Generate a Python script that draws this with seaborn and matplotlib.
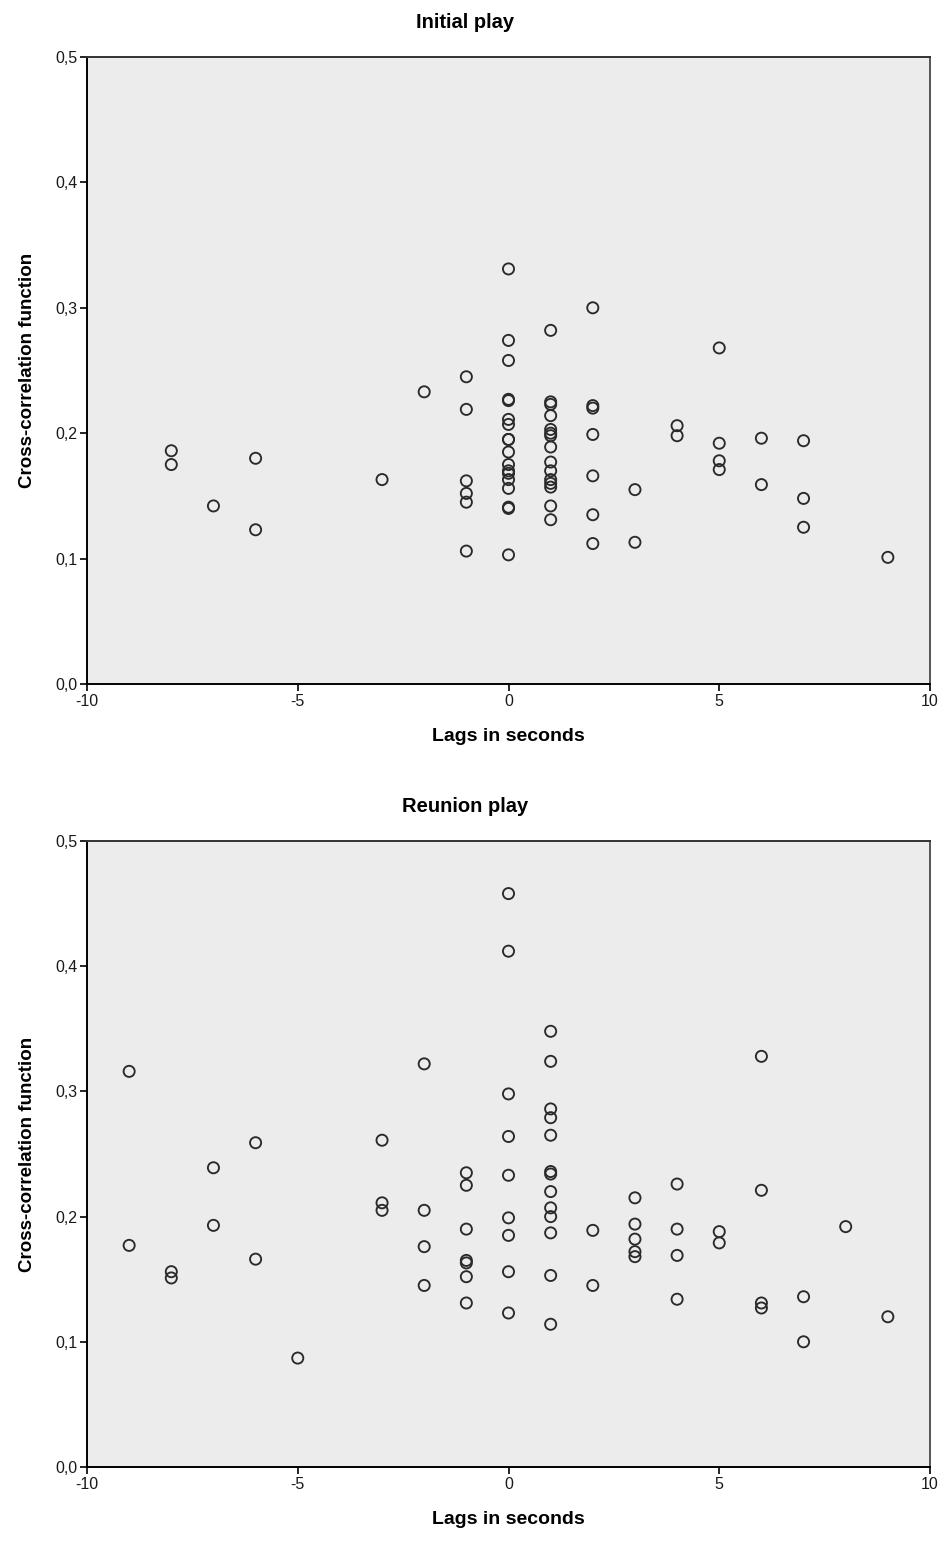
import matplotlib
matplotlib.use("Agg")
import matplotlib.pyplot as plt
import seaborn as sns
import pandas as pd
from matplotlib.ticker import FuncFormatter, FixedLocator

# ---- data ----
initial_lag = ([-8] * 2 + [-7] + [-6] * 2 + [-3] + [-2] + [-1] * 6 + [0] * 18 + [1] * 15
               + [2] * 7 + [3] * 2 + [4] * 2 + [5] * 4 + [6] * 2 + [7] * 3 + [9])
initial_ccf = [0.186, 0.175,
               0.142,
               0.180, 0.123,
               0.163,
               0.233,
               0.245, 0.219, 0.162, 0.152, 0.145, 0.106,
               0.331, 0.274, 0.258, 0.227, 0.226, 0.211, 0.207, 0.195, 0.195, 0.185,
               0.175, 0.170, 0.168, 0.163, 0.156, 0.141, 0.140, 0.103,
               0.282, 0.225, 0.223, 0.214, 0.203, 0.200, 0.198, 0.189, 0.177, 0.170,
               0.163, 0.160, 0.157, 0.142, 0.131,
               0.300, 0.222, 0.220, 0.199, 0.166, 0.135, 0.112,
               0.155, 0.113,
               0.206, 0.198,
               0.268, 0.192, 0.178, 0.171,
               0.196, 0.159,
               0.194, 0.148, 0.125,
               0.101]

reunion_lag = ([-9] * 2 + [-8] * 2 + [-7] * 2 + [-6] * 2 + [-5] + [-3] * 3 + [-2] * 4
               + [-1] * 7 + [0] * 9 + [1] * 13 + [2] * 2 + [3] * 5 + [4] * 4 + [5] * 2
               + [6] * 4 + [7] * 2 + [8] + [9])
reunion_ccf = [0.316, 0.177,
               0.156, 0.151,
               0.239, 0.193,
               0.259, 0.166,
               0.087,
               0.261, 0.211, 0.205,
               0.322, 0.205, 0.176, 0.145,
               0.235, 0.225, 0.190, 0.165, 0.163, 0.152, 0.131,
               0.458, 0.412, 0.298, 0.264, 0.233, 0.199, 0.185, 0.156, 0.123,
               0.348, 0.324, 0.286, 0.279, 0.265, 0.236, 0.234, 0.220, 0.207, 0.200,
               0.187, 0.153, 0.114,
               0.189, 0.145,
               0.215, 0.194, 0.182, 0.172, 0.168,
               0.226, 0.190, 0.169, 0.134,
               0.188, 0.179,
               0.328, 0.221, 0.131, 0.127,
               0.136, 0.100,
               0.192,
               0.120]

titles = ["Initial play", "Reunion play"]
x_label = "Lags in seconds"
y_label = "Cross-correlation function"
x_ticks = [-10, -5, 0, 5, 10]
y_ticks = [0.0, 0.1, 0.2, 0.3, 0.4, 0.5]

sns.set_theme(style="white")
plt.rcParams["font.family"] = ["Liberation Sans", "DejaVu Sans"]
plt.rcParams["axes.unicode_minus"] = False

fig = plt.figure(figsize=(9.39, 15.41), dpi=100)
W, H = 939.0, 1541.0
panels = [
    (initial_lag, initial_ccf, titles[0], 57, 684, 22),
    (reunion_lag, reunion_ccf, titles[1], 841, 1467, 806),
]

fmt = FuncFormatter(lambda v, p: f"{v:.1f}".replace(".", ","))

for lag, ccf, title, top, bot, ty in panels:
    ax = fig.add_axes([87 / W, 1 - bot / H, 843 / W, (bot - top) / H])
    df = pd.DataFrame({"lag": lag, "ccf": ccf})
    sns.scatterplot(data=df, x="lag", y="ccf", ax=ax, marker="o",
                    facecolors="none", edgecolor="#2a2a2a", s=64, linewidth=1.35)
    ax.set_facecolor("#ececec")
    ax.set_xlim(-10, 10)
    ax.set_ylim(0, 0.5)
    ax.xaxis.set_major_locator(FixedLocator(x_ticks))
    ax.yaxis.set_major_locator(FixedLocator(y_ticks))
    ax.yaxis.set_major_formatter(fmt)
    ax.tick_params(axis="both", direction="out", length=5, width=1.2,
                   color="black", labelsize=11.5, labelcolor="#1a1a1a", pad=2,
                   bottom=True, left=True)
    for sp in ax.spines.values():
        sp.set_visible(True)
        sp.set_color("black")
        sp.set_linewidth(1.4)
    ax.spines["right"].set_color("#555555")
    ax.spines["top"].set_color("#333333")
    ax.set_xlabel(x_label, fontsize=14, fontweight="bold", labelpad=14, color="black")
    ax.set_ylabel(y_label, fontsize=13.5, fontweight="bold", labelpad=14, color="black")
    fig.text(465 / W, 1 - ty / H, title, ha="center", va="center",
             fontsize=14.5, fontweight="bold", color="black")

fig.savefig("out.png", dpi=100, facecolor="white")
